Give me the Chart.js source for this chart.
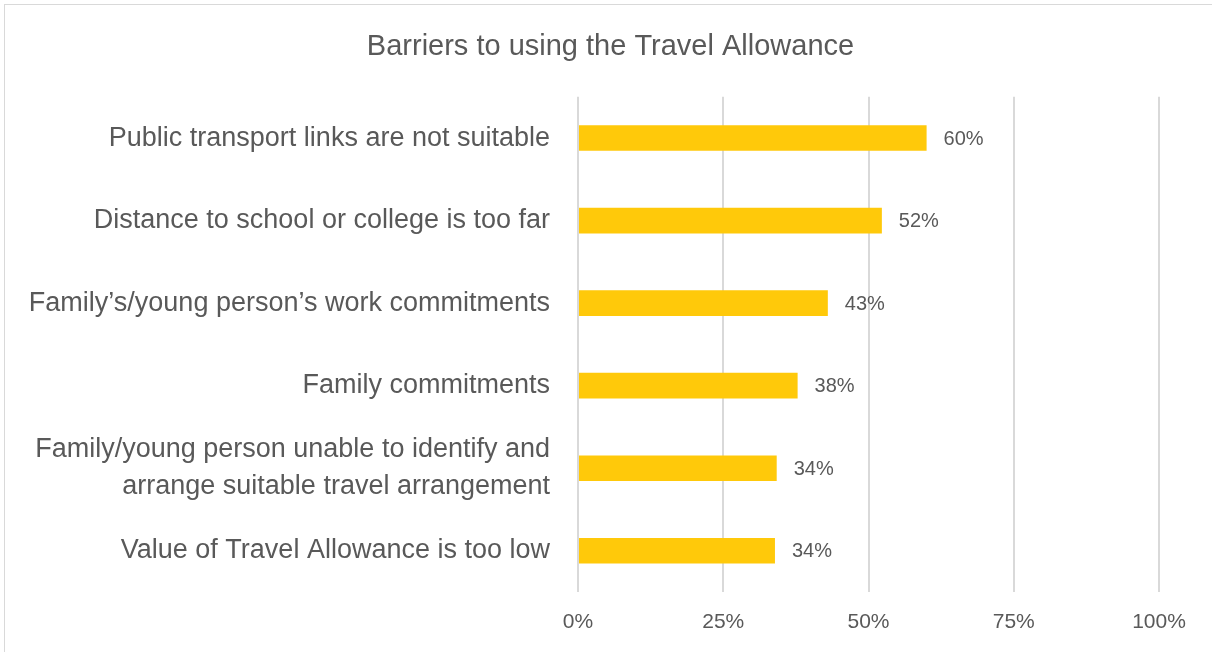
<!DOCTYPE html>
<html>
<head>
<meta charset="utf-8">
<title>Barriers to using the Travel Allowance</title>
<script src="https://cdn.jsdelivr.net/npm/chart.js@4/dist/chart.umd.min.js"></script>
<style>
  html, body { margin: 0; padding: 0; background: #fff; }
  #wrap { position: relative; width: 1212px; height: 652px; }
  #frame { position: absolute; left: 4px; top: 4px; right: -2px; bottom: -2px; border: 1px solid #d9d9d9; }
  canvas { position: absolute; left: 0; top: 0; }
</style>
</head>
<body>
<div id="wrap">
  <div id="frame"></div>
  <canvas id="myChart" width="1212" height="652"></canvas>
</div>
<script>
const labels = [
  'Public transport links are not suitable',
  'Distance to school or college is too far',
  'Family\u2019s/young person\u2019s work commitments',
  'Family commitments',
  ['Family/young person unable to identify and', 'arrange suitable travel arrangement'],
  'Value of Travel Allowance is too low',
];

// share of respondents, in percent
const values = [60, 52.3, 43, 37.8, 34.2, 33.9];
const shownValues = ['60%', '52%', '43%', '38%', '34%', '34%'];

const xTicks = [0, 25, 50, 75, 100];

const textGrey = '#595959';
const fontFamily = '"Liberation Sans", Arial, sans-serif';

// writes the percentage just past the end of each bar
const valueLabels = {
  id: 'valueLabels',
  afterDatasetsDraw(chart) {
    const ctx = chart.ctx;
    const meta = chart.getDatasetMeta(0);
    ctx.save();
    ctx.font = '20px ' + fontFamily;
    ctx.fillStyle = textGrey;
    ctx.textAlign = 'left';
    ctx.textBaseline = 'middle';
    meta.data.forEach((bar, i) => {
      ctx.fillText(shownValues[i], bar.x + 17, bar.y + 1);
    });
    ctx.restore();
  }
};

// nudges the title box to the right so it sits over the middle of the frame
const titleShift = {
  id: 'titleShift',
  afterLayout(chart) {
    if (chart.titleBlock) {
      chart.titleBlock.left += 26;
      chart.titleBlock.right += 26;
    }
  }
};

const data = {
  labels: labels,
  datasets: [{
    label: 'Barriers',
    backgroundColor: '#ffc90a',
    data: values,
    barPercentage: 0.62,
    categoryPercentage: 0.5,
  }]
};

const config = {
  type: 'bar',
  data: data,
  plugins: [valueLabels, titleShift],
  options: {
    indexAxis: 'y',
    responsive: false,
    animation: false,
    layout: {
      padding: { left: 10, right: 53, top: 0, bottom: 0 }
    },
    plugins: {
      legend: { display: false },
      tooltip: { enabled: false },
      title: {
        display: true,
        text: 'Barriers to using the Travel Allowance',
        color: textGrey,
        font: { family: fontFamily, size: 29, weight: 'normal', lineHeight: 1.2 },
        padding: { top: 30, bottom: 32 }
      }
    },
    scales: {
      x: {
        min: 0,
        max: 100,
        afterBuildTicks(scale) {
          scale.ticks = xTicks.map(v => ({ value: v }));
        },
        afterFit(scale) {
          scale.height = 60;
        },
        grid: { color: '#d9d9d9', lineWidth: 2, drawTicks: false },
        border: { display: false },
        ticks: {
          color: textGrey,
          padding: 18,
          font: { family: fontFamily, size: 21 },
          callback: v => v + '%'
        }
      },
      y: {
        afterFit(scale) {
          scale.width = 568;
        },
        grid: { display: false },
        border: { display: false },
        ticks: {
          color: textGrey,
          padding: 20,
          font: { family: fontFamily, size: 27, lineHeight: 1.37 }
        }
      }
    }
  }
};

const myChart = new Chart(
  document.getElementById('myChart'),
  config
);
</script>
</body>
</html>
